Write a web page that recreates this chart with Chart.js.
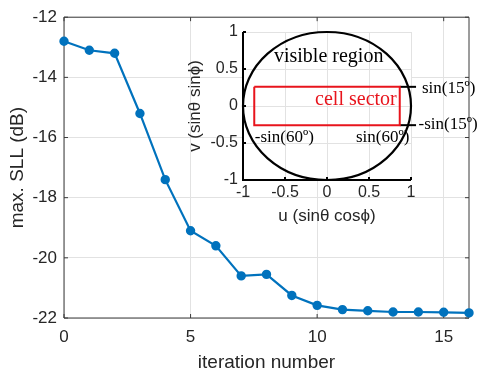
<!DOCTYPE html>
<html>
<head>
<meta charset="utf-8">
<script src="https://cdn.jsdelivr.net/npm/chart.js@4"></script>
<style>
  html, body { margin: 0; padding: 0; background: #fff; }
  #wrap { position: relative; width: 481px; height: 379px; }
  #wrap canvas { position: absolute; left: 0; top: 0; }
</style>
</head>
<body>
<div id="wrap">
  <canvas id="main" width="481" height="379"></canvas>
  <canvas id="inset" width="481" height="379"></canvas>
</div>
<script>
// main curve: max sidelobe level per iteration
const iterations = [0, 1, 2, 3, 4, 5, 6, 7, 8, 9, 10, 11, 12, 13, 14, 15, 16];
const maxSLL = [-12.8, -13.1, -13.2, -15.2, -17.4, -19.1, -19.6, -20.6, -20.55, -21.25,
                -21.58, -21.72, -21.76, -21.8, -21.8, -21.81, -21.83];
const xTicks = [0, 5, 10, 15];
const yTicks = [-22, -20, -18, -16, -14, -12];

// inset: visible region and cell sector in (u, v)
const visibleRadius = 1;
const sectorU = [-0.866, 0.866, 0.866, -0.866, -0.866];
const sectorV = [0.259, 0.259, -0.259, -0.259, 0.259];
const markerU = [0.866, 1.06];
const markerV = [0.259, -0.259];
const uvTicks = [-1, -0.5, 0, 0.5, 1];
const labels = [
  { text: 'visible region', u: 0.02, v: 0.66, color: '#000', align: 'center', size: 20 },
  { text: 'cell sector', u: 0.83, v: 0.08, color: '#e8141c', align: 'right', size: 20 },
  { text: '-sin(60º)', u: -0.86, v: -0.43, color: '#000', align: 'left', size: 17 },
  { text: 'sin(60º)', u: 0.98, v: -0.43, color: '#000', align: 'right', size: 17 },
  { text: 'sin(15º)', u: 1.13, v: 0.23, color: '#000', align: 'left', size: 17 },
  { text: '-sin(15º)', u: 1.09, v: -0.25, color: '#000', align: 'left', size: 17 }
];

const axisColor = '#262626';
const gridColor = '#e2e2e2';
const sans = "'Liberation Sans', Arial, sans-serif";
const serif = "'Liberation Serif', 'Times New Roman', serif";

// box with inward ticks, MATLAB style
const boxPlugin = {
  id: 'box',
  beforeDatasetsDraw(chart, args, opts) {
    const { ctx, chartArea: a, scales } = chart;
    ctx.save();
    ctx.strokeStyle = opts.color;
    ctx.lineWidth = opts.width;
    ctx.beginPath();
    if (opts.full) {
      ctx.rect(a.left, a.top, a.right - a.left, a.bottom - a.top);
    } else {
      ctx.moveTo(a.left, a.top);
      ctx.lineTo(a.left, a.bottom);
      ctx.lineTo(a.right, a.bottom);
    }
    const len = opts.tick;
    scales.x.ticks.forEach(t => {
      const px = scales.x.getPixelForValue(t.value);
      ctx.moveTo(px, a.bottom);
      ctx.lineTo(px, a.bottom - len);
      if (opts.full) { ctx.moveTo(px, a.top); ctx.lineTo(px, a.top + len); }
    });
    scales.y.ticks.forEach(t => {
      const py = scales.y.getPixelForValue(t.value);
      ctx.moveTo(a.left, py);
      ctx.lineTo(a.left + len, py);
      if (opts.full) { ctx.moveTo(a.right, py); ctx.lineTo(a.right - len, py); }
    });
    ctx.stroke();
    ctx.restore();
  }
};

new Chart(document.getElementById('main'), {
  type: 'line',
  data: {
    datasets: [{
      data: iterations.map((it, i) => ({ x: it, y: maxSLL[i] })),
      borderColor: '#0072bd',
      backgroundColor: '#0072bd',
      borderWidth: 2.2,
      pointRadius: 3.6,
      pointHoverRadius: 3.6,
      tension: 0,
      clip: false
    }]
  },
  options: {
    responsive: false,
    animation: false,
    events: [],
    layout: { padding: { left: 0, top: 11, right: 12, bottom: 0 } },
    plugins: {
      legend: { display: false },
      tooltip: { enabled: false },
      box: { color: '#3a3a3a', width: 1, tick: 4, full: true }
    },
    scales: {
      x: {
        type: 'linear', min: 0, max: 16,
        afterBuildTicks: s => { s.ticks = xTicks.map(v => ({ value: v })); },
        afterFit: s => { s.height = 61; },
        grid: { color: gridColor, drawTicks: false },
        border: { display: false },
        ticks: { color: axisColor, font: { family: sans, size: 17 }, padding: 9, maxRotation: 0 },
        title: { display: true, text: 'iteration number', color: axisColor,
                 font: { family: sans, size: 19 }, padding: { top: 0, bottom: 5 } }
      },
      y: {
        type: 'linear', min: -22, max: -12,
        afterBuildTicks: s => { s.ticks = yTicks.map(v => ({ value: v })); },
        afterFit: s => { s.width = 64; },
        grid: { color: gridColor, drawTicks: false },
        border: { display: false },
        ticks: { color: axisColor, font: { family: sans, size: 17 }, padding: 7 },
        title: { display: true, text: 'max. SLL (dB)', color: axisColor,
                 font: { family: sans, size: 19 }, padding: { top: 6, bottom: 0 } }
      }
    }
  },
  plugins: [boxPlugin]
});

// white plot area for the inset
const insetBg = {
  id: 'insetBg',
  beforeDraw(chart) {
    const { ctx, chartArea: a } = chart;
    ctx.save();
    ctx.fillStyle = '#fff';
    ctx.fillRect(a.left, a.top, a.right - a.left, a.bottom - a.top);
    ctx.restore();
  }
};

// circle of the visible region plus the text labels
const insetDecor = {
  id: 'insetDecor',
  afterDatasetsDraw(chart) {
    const { ctx, scales: { x, y } } = chart;
    ctx.save();
    labels.forEach(l => {
      ctx.font = l.size + 'px ' + serif;
      ctx.fillStyle = l.color;
      ctx.textAlign = l.align;
      ctx.textBaseline = 'middle';
      ctx.fillText(l.text, x.getPixelForValue(l.u), y.getPixelForValue(l.v));
    });
    const cx = x.getPixelForValue(0), cy = y.getPixelForValue(0);
    const rx = x.getPixelForValue(visibleRadius) - cx;
    const ry = cy - y.getPixelForValue(visibleRadius);
    ctx.beginPath();
    ctx.ellipse(cx, cy, rx, ry, 0, 0, Math.PI * 2);
    ctx.strokeStyle = '#000';
    ctx.lineWidth = 2.2;
    ctx.stroke();
    ctx.restore();
  }
};

const uvLabel = v => String(v);

new Chart(document.getElementById('inset'), {
  type: 'scatter',
  data: {
    datasets: [
      {
        data: sectorU.map((u, i) => ({ x: u, y: sectorV[i] })),
        showLine: true, borderColor: '#e8141c', borderWidth: 2, pointRadius: 0, tension: 0
      },
      ...markerV.map(v => ({
        data: markerU.map(u => ({ x: u, y: v })),
        showLine: true, borderColor: '#000', borderWidth: 2, pointRadius: 0, clip: false
      }))
    ]
  },
  options: {
    responsive: false,
    animation: false,
    events: [],
    layout: { padding: { left: 185, top: 32, right: 70, bottom: 149 } },
    plugins: {
      legend: { display: false },
      tooltip: { enabled: false },
      box: { color: '#000', width: 2, tick: 3, full: false }
    },
    scales: {
      x: {
        type: 'linear', min: -1, max: 1,
        afterBuildTicks: s => { s.ticks = uvTicks.map(v => ({ value: v })); },
        ticks: { callback: uvLabel, color: axisColor, font: { family: sans, size: 16 }, padding: 3, maxRotation: 0 },
        afterFit: s => { s.height = 50; },
        grid: { color: gridColor, drawTicks: false },
        border: { display: false },
        title: { display: true, text: 'u (sinθ cosϕ)', color: axisColor,
                 font: { family: sans, size: 17 }, padding: { top: 0, bottom: 3 } }
      },
      y: {
        type: 'linear', min: -1, max: 1,
        afterBuildTicks: s => { s.ticks = uvTicks.map(v => ({ value: v })); },
        ticks: { callback: uvLabel, color: axisColor, font: { family: sans, size: 16 }, padding: 5 },
        afterFit: s => { s.width = 58; },
        grid: { color: gridColor, drawTicks: false },
        border: { display: false },
        title: { display: true, text: 'v (sinθ sinϕ)', color: axisColor,
                 font: { family: sans, size: 17 }, padding: { top: 0, bottom: 0 } }
      }
    }
  },
  plugins: [insetBg, boxPlugin, insetDecor]
});
</script>
</body>
</html>
